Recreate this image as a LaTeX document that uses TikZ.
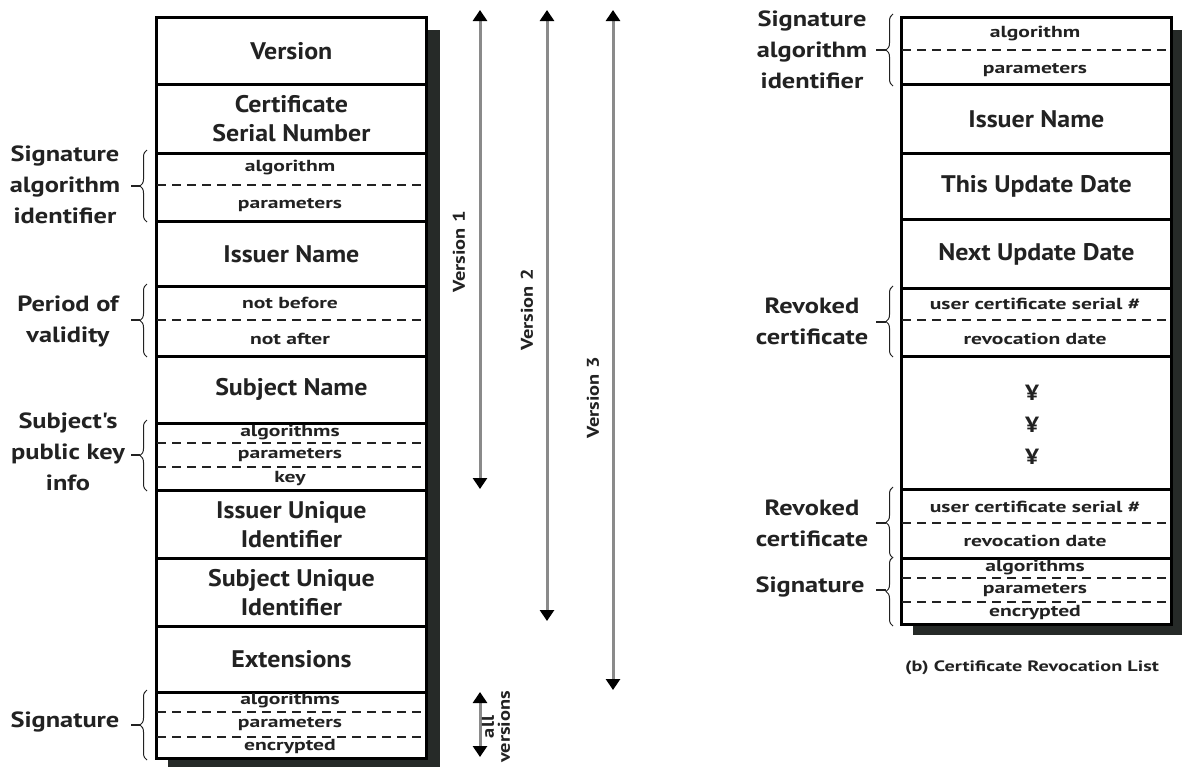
\documentclass[tikz,border=0pt]{standalone}
\usepackage{fontspec}
\setmainfont{PT Sans}
\newfontfamily\mainf[FakeStretch=1.08]{PT Sans}
\newfontfamily\smallf[FakeStretch=1.35]{PT Sans}
\newfontfamily\labf[FakeStretch=1.2]{PT Sans}
\usetikzlibrary{arrows.meta,decorations.pathreplacing}
\definecolor{ink}{HTML}{222222}
\definecolor{shade}{HTML}{262A28}
\definecolor{shaft}{HTML}{8A8A8A}
\begin{document}
\begin{tikzpicture}[x=1pt,y=-1pt,
  rowbox/.style={draw=black, line width=2.8pt, fill=white, minimum width=270pt, inner sep=0pt, anchor=north west,
    font=\mainf\fontsize{24}{29}\selectfont\bfseries, text=ink, align=center},
  sub/.style={font=\smallf\fontsize{16}{17}\selectfont\bfseries, text=ink, inner sep=0pt},
  dline/.style={line width=2.5pt, dash pattern=on 9pt off 6pt, draw=ink},
  lbl/.style={font=\labf\fontsize{22}{31}\selectfont\bfseries, text=ink, align=center, inner sep=0pt},
  brc/.style={decorate, decoration={brace, amplitude=7pt}, line width=1pt, draw=ink},
  tipline/.style={line width=1.6pt, draw=ink},
  arr/.style={{Triangle[width=14pt,length=11pt,color=black]}-{Triangle[width=14pt,length=11pt,color=black]}, line width=3pt, draw=shaft},
  vlab/.style={rotate=90, font=\labf\fontsize{17}{16}\selectfont\bfseries, text=ink, align=center, inner sep=0pt},
  dotmark/.style={font=\mainf\fontsize{22}{22}\selectfont\bfseries, text=ink, inner sep=0pt},
  shadow/.style={fill=shade, draw=none}
]
\useasboundingbox (0,0) rectangle (1182,769);

% ================= left table =================
\fill[shadow] (168,30) rectangle (440,767);
\node[rowbox, minimum height=67pt] (ver) at (155,16) {Version};
\node[rowbox, minimum height=69pt] (csn) at (155,83) {Certificate\\Serial Number};
\node[rowbox, minimum height=68pt] (sai) at (155,152) {};
\node[rowbox, minimum height=65pt] (iss) at (155,220) {Issuer Name};
\node[rowbox, minimum height=70pt] (pov) at (155,285) {};
\node[rowbox, minimum height=67pt] (sub) at (155,355) {Subject Name};
\node[rowbox, minimum height=67pt] (pki) at (155,422) {};
\node[rowbox, minimum height=68pt] (iui) at (155,489) {Issuer Unique\\Identifier};
\node[rowbox, minimum height=68pt] (sui) at (155,557) {Subject Unique\\Identifier};
\node[rowbox, minimum height=66pt] (ext) at (155,625) {Extensions};
\node[rowbox, minimum height=66pt] (sig) at (155,691) {};

\draw[dline] (157,185) -- (423,185);
\node[sub] (saiA) at (290,168) {algorithm};
\node[sub] (saiP) at (290,205) {parameters};

\draw[dline] (157,320) -- (423,320);
\node[sub] (povB) at (290,303) {not before};
\node[sub] (povA) at (290,339) {not after};

\draw[dline] (157,443) -- (423,443);
\draw[dline] (157,467) -- (423,467);
\node[sub] (pkiA) at (290,432) {algorithms};
\node[sub] (pkiP) at (290,455) {parameters};
\node[sub] (pkiK) at (290,479) {key};

\draw[dline] (157,712) -- (423,712);
\draw[dline] (157,737) -- (423,737);
\node[sub] (sigA) at (290,700) {algorithms};
\node[sub] (sigP) at (290,724) {parameters};
\node[sub] (sigE) at (290,747) {encrypted};

% left labels and braces
\node[lbl] (lsai) at (65,185) {Signature\\algorithm\\identifier};
\draw[brc] (147,222) -- (147,150);
\draw[tipline] (140,186) -- (131,186);

\node[lbl] (lpov) at (68,321) {Period of\\validity};
\draw[brc] (147,357) -- (147,284);
\draw[tipline] (140,320) -- (131,320);

\node[lbl] (lpki) at (68,452) {Subject's\\public key\\info};
\draw[brc] (147,491) -- (147,420);
\draw[tipline] (140,455) -- (131,455);

\node[lbl] (lsig) at (65,722) {Signature};
\draw[brc] (147,760) -- (147,690);
\draw[tipline] (140,725) -- (131,725);

% version arrows
\coordinate (v1t) at (480,10);
\coordinate (v1b) at (480,489);
\coordinate (v2t) at (547,10);
\coordinate (v2b) at (547,621);
\coordinate (v3t) at (613,10);
\coordinate (v3b) at (613,690);
\coordinate (avt) at (480,692);
\coordinate (avb) at (480,757);
\draw[arr] (v1t) -- (v1b);
\draw[arr] (v2t) -- (v2b);
\draw[arr] (v3t) -- (v3b);
\draw[arr] (avt) -- (avb);
\node[vlab] (lv1) at (459,252) {Version 1};
\node[vlab] (lv2) at (527,310) {Version 2};
\node[vlab] (lv3) at (593,398) {Version 3};
\node[vlab] (lav) at (496,727) {all\\versions};

% ================= right table =================
\fill[shadow] (913,30) rectangle (1182,635);
\node[rowbox, minimum height=67pt] (rsai) at (900,16) {};
\node[rowbox, minimum height=69pt] (riss) at (900,83) {Issuer Name};
\node[rowbox, minimum height=66pt] (rthis) at (900,152) {This Update Date};
\node[rowbox, minimum height=69pt] (rnext) at (900,218) {Next Update Date};
\node[rowbox, minimum height=68pt] (rrev1) at (900,287) {};
\node[rowbox, minimum height=133pt] (rdots) at (900,355) {};
\node[rowbox, minimum height=69pt] (rrev2) at (900,488) {};
\node[rowbox, minimum height=66pt] (rsig) at (900,557) {};

\draw[dline] (902,50) -- (1168,50);
\node[sub] (rsaiA) at (1035,34) {algorithm};
\node[sub] (rsaiP) at (1035,70) {parameters};

\draw[dline] (902,320) -- (1168,320);
\node[sub] (rr1U) at (1035,304) {user certificate serial \#};
\node[sub] (rr1D) at (1035,339) {revocation date};

\node[dotmark] (d1) at (1032,393) {¥};
\node[dotmark] (d2) at (1032,425) {¥};
\node[dotmark] (d3) at (1032,457) {¥};

\draw[dline] (902,523) -- (1168,523);
\node[sub] (rr2U) at (1035,507) {user certificate serial \#};
\node[sub] (rr2D) at (1035,541) {revocation date};

\draw[dline] (902,578) -- (1168,578);
\draw[dline] (902,602) -- (1168,602);
\node[sub] (rsigA) at (1035,567) {algorithms};
\node[sub] (rsigP) at (1035,590) {parameters};
\node[sub] (rsigE) at (1035,613) {encrypted};

% right labels and braces
\node[lbl] (lrsai) at (812,50) {Signature\\algorithm\\identifier};
\draw[brc] (893,86) -- (893,14);
\draw[tipline] (886,50) -- (876,50);

\node[lbl] (lrr1) at (812,321) {Revoked\\certificate};
\draw[brc] (893,357) -- (893,286);
\draw[tipline] (886,322) -- (876,322);

\node[lbl] (lrr2) at (812,523) {Revoked\\certificate};
\draw[brc] (893,558) -- (893,487);
\draw[tipline] (886,523) -- (876,523);

\node[lbl] (lrsig) at (810,587) {Signature};
\draw[brc] (893,626) -- (893,557);
\draw[tipline] (886,590) -- (876,590);

\node[font=\smallf\fontsize{15}{16}\selectfont\bfseries, text=ink, inner sep=0pt] (cap) at (1032,668) {(b) Certificate Revocation List};
\end{tikzpicture}
\end{document}
